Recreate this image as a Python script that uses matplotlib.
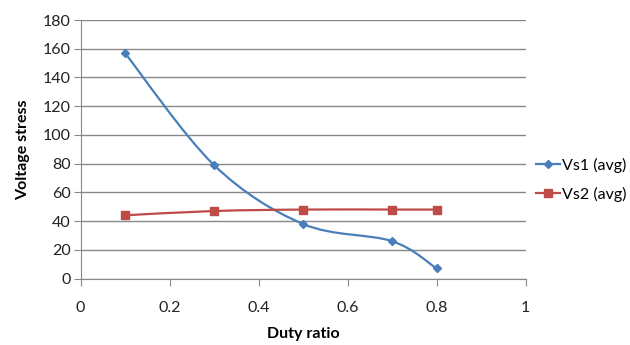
import matplotlib.pyplot as plt
import numpy as np
from matplotlib.path import Path
from matplotlib.patches import PathPatch
from matplotlib.lines import Line2D

plt.rcParams['font.family'] = ['Lato', 'DejaVu Sans']

# data
duty = [0.1, 0.3, 0.5, 0.7, 0.8]
vs1 = [157, 79, 38, 26, 7]
vs2 = [44, 47, 48, 48, 48]

blue = '#4A7EBB'
red = '#BE4B48'


def smooth_path(x, y):
    # Excel-like smoothed line: cubic bezier segments, catmull-rom tangents
    x = np.asarray(x, float)
    y = np.asarray(y, float)
    n = len(x)
    verts = [(x[0], y[0])]
    codes = [Path.MOVETO]
    for i in range(n - 1):
        p0 = np.array([x[max(i - 1, 0)], y[max(i - 1, 0)]])
        p1 = np.array([x[i], y[i]])
        p2 = np.array([x[i + 1], y[i + 1]])
        p3 = np.array([x[min(i + 2, n - 1)], y[min(i + 2, n - 1)]])
        c1 = p1 + (p2 - p0) / 6
        c2 = p2 - (p3 - p1) / 6
        verts += [tuple(c1), tuple(c2), tuple(p2)]
        codes += [Path.CURVE4] * 3
    return Path(verts, codes)


fig = plt.figure(figsize=(6.3, 3.45), dpi=100)
ax = fig.add_axes([80.5 / 630, 1 - 278.5 / 345, 445 / 630, 258.5 / 345])

for ys, c, m, ms in [(vs1, blue, 'D', 4), (vs2, red, 's', 6)]:
    ax.add_patch(PathPatch(smooth_path(duty, ys), fill=False, edgecolor=c, lw=1.6, zorder=3))
    ax.plot(duty, ys, linestyle='none', marker=m, color=c, ms=ms, zorder=4)

ax.set_xlim(0, 1)
ax.set_ylim(0, 180)
ax.set_xticks(np.arange(0, 1.01, 0.2))
ax.set_xticklabels(['0', '0.2', '0.4', '0.6', '0.8', '1'])
ax.set_yticks(range(0, 181, 20))
ax.yaxis.grid(True, color='#888888', lw=1)
ax.set_axisbelow(True)
for s in ['top', 'right']:
    ax.spines[s].set_visible(False)
for s in ['left', 'bottom']:
    ax.spines[s].set_color('#888888')
ax.tick_params(axis='both', color='#888888', length=5, labelsize=11.5, colors='#222222')
ax.tick_params(axis='x', pad=11)
ax.tick_params(axis='y', pad=2)
ax.set_xlabel('Duty ratio', fontsize=11.5, fontweight='bold', labelpad=9)
ax.set_ylabel('Voltage stress', fontsize=11.5, fontweight='bold', labelpad=9)

handles = [Line2D([], [], color=blue, marker='D', ms=4, lw=1.6),
           Line2D([], [], color=red, marker='s', ms=6, lw=1.6)]
fig.legend(handles, ['Vs1 (avg)', 'Vs2 (avg)'], loc='upper left',
           bbox_to_anchor=(536 / 630, 1 - 158 / 345), frameon=False,
           fontsize=11.5, handlelength=1.5, handletextpad=0.15, labelspacing=0.85,
           borderpad=0, borderaxespad=0)

fig.savefig('out.png', dpi=100)
